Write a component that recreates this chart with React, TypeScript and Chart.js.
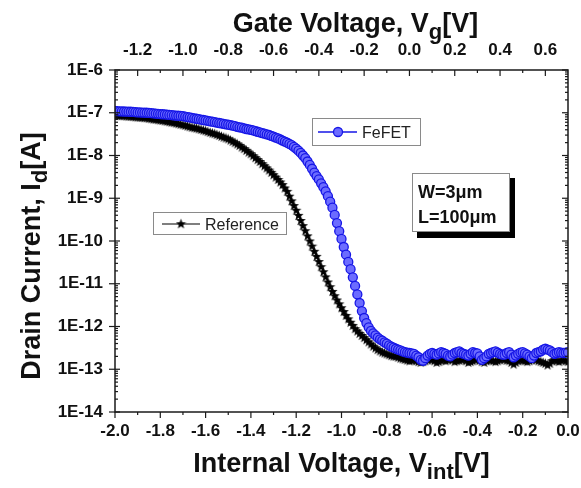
import React, { useEffect, useRef } from "react";
import { Chart, registerables } from "chart.js";

Chart.register(...registerables);

const FONT = '"Liberation Sans", Arial, sans-serif';

// Internal voltage (bottom axis), V
const vint = [
  -2.0, -1.99, -1.98, -1.97, -1.96, -1.95, -1.94, -1.93, -1.92, -1.91,
  -1.9, -1.89, -1.88, -1.87, -1.86, -1.85, -1.84, -1.83, -1.82, -1.81,
  -1.8, -1.79, -1.78, -1.77, -1.76, -1.75, -1.74, -1.73, -1.72, -1.71,
  -1.7, -1.69, -1.68, -1.67, -1.66, -1.65, -1.64, -1.63, -1.62, -1.61,
  -1.6, -1.59, -1.58, -1.57, -1.56, -1.55, -1.54, -1.53, -1.52, -1.51,
  -1.5, -1.49, -1.48, -1.47, -1.46, -1.45, -1.44, -1.43, -1.42, -1.41,
  -1.4, -1.39, -1.38, -1.37, -1.36, -1.35, -1.34, -1.33, -1.32, -1.31,
  -1.3, -1.29, -1.28, -1.27, -1.26, -1.25, -1.24, -1.23, -1.22, -1.21,
  -1.2, -1.19, -1.18, -1.17, -1.16, -1.15, -1.14, -1.13, -1.12, -1.11,
  -1.1, -1.09, -1.08, -1.07, -1.06, -1.05, -1.04, -1.03, -1.02, -1.01,
  -1.0, -0.99, -0.98, -0.97, -0.96, -0.95, -0.94, -0.93, -0.92, -0.91,
  -0.9, -0.89, -0.88, -0.87, -0.86, -0.85, -0.84, -0.83, -0.82, -0.81,
  -0.8, -0.79, -0.78, -0.77, -0.76, -0.75, -0.74, -0.73, -0.72, -0.71,
  -0.7, -0.69, -0.68, -0.67, -0.66, -0.65, -0.64, -0.63, -0.62, -0.61,
  -0.6, -0.59, -0.58, -0.57, -0.56, -0.55, -0.54, -0.53, -0.52, -0.51,
  -0.5, -0.49, -0.48, -0.47, -0.46, -0.45, -0.44, -0.43, -0.42, -0.41,
  -0.4, -0.39, -0.38, -0.37, -0.36, -0.35, -0.34, -0.33, -0.32, -0.31,
  -0.3, -0.29, -0.28, -0.27, -0.26, -0.25, -0.24, -0.23, -0.22, -0.21,
  -0.2, -0.19, -0.18, -0.17, -0.16, -0.15, -0.14, -0.13, -0.12, -0.11,
  -0.1, -0.09, -0.08, -0.07, -0.06, -0.05, -0.04, -0.03, -0.02, -0.01,
  0.0,
];

// FeFET drain current, A
const fefet = [
  1.10e-7, 1.09e-7, 1.08e-7, 1.075e-7, 1.07e-7, 1.065e-7, 1.06e-7, 1.055e-7, 1.05e-7, 1.035e-7,
  1.02e-7, 1.015e-7, 1.01e-7, 1.005e-7, 1.00e-7, 9.88e-8, 9.77e-8, 9.66e-8, 9.55e-8, 9.44e-8,
  9.33e-8, 9.22e-8, 9.12e-8, 9.01e-8, 8.91e-8, 8.81e-8, 8.71e-8, 8.61e-8, 8.51e-8, 8.41e-8,
  8.32e-8, 8.13e-8, 7.94e-8, 7.76e-8, 7.59e-8, 7.41e-8, 7.24e-8, 7.08e-8, 6.92e-8, 6.76e-8,
  6.61e-8, 6.46e-8, 6.31e-8, 6.17e-8, 6.03e-8, 5.89e-8, 5.75e-8, 5.62e-8, 5.50e-8, 5.37e-8,
  5.25e-8, 5.13e-8, 5.01e-8, 4.84e-8, 4.68e-8, 4.57e-8, 4.47e-8, 4.32e-8, 4.17e-8, 4.07e-8,
  3.98e-8, 3.85e-8, 3.72e-8, 3.59e-8, 3.47e-8, 3.35e-8, 3.24e-8, 3.13e-8, 3.02e-8, 2.88e-8,
  2.75e-8, 2.63e-8, 2.51e-8, 2.37e-8, 2.24e-8, 2.12e-8, 2.00e-8, 1.87e-8, 1.74e-8, 1.59e-8,
  1.45e-8, 1.30e-8, 1.15e-8, 1.00e-8, 8.71e-9, 7.24e-9, 6.03e-9, 4.90e-9, 3.98e-9, 3.31e-9,
  2.75e-9, 2.24e-9, 1.82e-9, 1.45e-9, 1.12e-9, 8.32e-10, 6.03e-10, 4.07e-10, 2.63e-10, 1.70e-10,
  1.12e-10, 7.24e-11, 4.79e-11, 3.24e-11, 2.19e-11, 1.41e-11, 8.91e-12, 5.62e-12, 3.55e-12, 2.29e-12,
  1.58e-12, 1.20e-12, 9.55e-13, 7.94e-13, 6.92e-13, 6.17e-13, 5.50e-13, 5.01e-13, 4.68e-13, 4.27e-13,
  3.98e-13, 3.63e-13, 3.39e-13, 3.20e-13, 3.02e-13, 2.88e-13, 2.75e-13, 2.63e-13, 2.51e-13, 2.45e-13,
  2.40e-13, 2.34e-13, 2.29e-13, 2.09e-13, 1.91e-13, 1.66e-13, 1.58e-13, 1.82e-13, 2.09e-13, 2.29e-13,
  2.40e-13, 2.29e-13, 2.19e-13, 2.34e-13, 2.51e-13, 2.40e-13, 2.29e-13, 2.09e-13, 2.00e-13, 2.19e-13,
  2.40e-13, 2.51e-13, 2.63e-13, 2.40e-13, 2.29e-13, 2.19e-13, 2.09e-13, 2.29e-13, 2.51e-13, 2.40e-13,
  2.34e-13, 2.00e-13, 1.66e-13, 1.82e-13, 2.00e-13, 2.29e-13, 2.40e-13, 2.51e-13, 2.63e-13, 2.45e-13,
  2.29e-13, 2.19e-13, 2.19e-13, 2.40e-13, 2.51e-13, 2.19e-13, 1.91e-13, 2.09e-13, 2.29e-13, 2.45e-13,
  2.51e-13, 2.34e-13, 2.19e-13, 2.00e-13, 1.82e-13, 2.09e-13, 2.40e-13, 2.51e-13, 2.63e-13, 2.88e-13,
  3.02e-13, 2.88e-13, 2.75e-13, 2.51e-13, 2.29e-13, 2.40e-13, 2.51e-13, 2.45e-13, 2.40e-13, 2.45e-13,
  2.51e-13,
];

// Reference transistor drain current, A
const reference = [
  8.71e-8, 8.66e-8, 8.61e-8, 8.56e-8, 8.51e-8, 8.41e-8, 8.32e-8, 8.22e-8, 8.13e-8, 8.03e-8,
  7.94e-8, 7.85e-8, 7.76e-8, 7.67e-8, 7.59e-8, 7.41e-8, 7.24e-8, 7.12e-8, 7.00e-8, 6.88e-8,
  6.76e-8, 6.61e-8, 6.46e-8, 6.31e-8, 6.17e-8, 6.03e-8, 5.89e-8, 5.72e-8, 5.56e-8, 5.40e-8,
  5.25e-8, 5.07e-8, 4.90e-8, 4.73e-8, 4.57e-8, 4.47e-8, 4.37e-8, 4.22e-8, 4.07e-8, 3.93e-8,
  3.80e-8, 3.63e-8, 3.47e-8, 3.35e-8, 3.24e-8, 3.09e-8, 2.95e-8, 2.82e-8, 2.69e-8, 2.57e-8,
  2.45e-8, 2.29e-8, 2.14e-8, 2.00e-8, 1.86e-8, 1.72e-8, 1.58e-8, 1.45e-8, 1.32e-8, 1.20e-8,
  1.10e-8, 9.90e-9, 8.91e-9, 8.03e-9, 7.24e-9, 6.45e-9, 5.75e-9, 5.13e-9, 4.57e-9, 4.03e-9,
  3.55e-9, 3.12e-9, 2.75e-9, 2.40e-9, 2.09e-9, 1.74e-9, 1.45e-9, 1.12e-9, 8.71e-10, 6.76e-10,
  5.25e-10, 3.98e-10, 3.02e-10, 2.29e-10, 1.74e-10, 1.32e-10, 1.00e-10, 7.59e-11, 5.75e-11, 4.37e-11,
  3.31e-11, 2.51e-11, 1.91e-11, 1.45e-11, 1.10e-11, 8.51e-12, 6.61e-12, 5.25e-12, 4.17e-12, 3.39e-12,
  2.75e-12, 2.24e-12, 1.82e-12, 1.51e-12, 1.26e-12, 1.06e-12, 8.91e-13, 7.85e-13, 6.92e-13, 6.17e-13,
  5.50e-13, 4.90e-13, 4.37e-13, 3.89e-13, 3.47e-13, 3.16e-13, 2.88e-13, 2.69e-13, 2.51e-13, 2.40e-13,
  2.29e-13, 2.19e-13, 2.09e-13, 2.04e-13, 2.00e-13, 1.91e-13, 1.82e-13, 1.76e-13, 1.70e-13, 1.64e-13,
  1.58e-13, 1.62e-13, 1.66e-13, 1.58e-13, 1.51e-13, 1.45e-13, 1.51e-13, 1.58e-13, 1.66e-13, 1.74e-13,
  1.66e-13, 1.58e-13, 1.45e-13, 1.51e-13, 1.62e-13, 1.66e-13, 1.58e-13, 1.66e-13, 1.74e-13, 1.66e-13,
  1.51e-13, 1.58e-13, 1.62e-13, 1.66e-13, 1.74e-13, 1.58e-13, 1.45e-13, 1.51e-13, 1.58e-13, 1.66e-13,
  1.74e-13, 1.62e-13, 1.51e-13, 1.45e-13, 1.58e-13, 1.66e-13, 1.62e-13, 1.58e-13, 1.51e-13, 1.58e-13,
  1.66e-13, 1.74e-13, 1.70e-13, 1.62e-13, 1.58e-13, 1.45e-13, 1.32e-13, 1.45e-13, 1.58e-13, 1.66e-13,
  1.62e-13, 1.58e-13, 1.51e-13, 1.58e-13, 1.66e-13, 1.74e-13, 1.66e-13, 1.58e-13, 1.51e-13, 1.45e-13,
  1.38e-13, 1.26e-13, 1.38e-13, 1.58e-13, 1.66e-13, 1.58e-13, 1.51e-13, 1.62e-13, 1.66e-13, 1.58e-13,
  1.51e-13,
];

// Axis ticks
const xTicks = [-2.0, -1.8, -1.6, -1.4, -1.2, -1.0, -0.8, -0.6, -0.4, -0.2, 0.0];
const xMinor = [-1.9, -1.7, -1.5, -1.3, -1.1, -0.9, -0.7, -0.5, -0.3, -0.1];
const gateTicks = [-1.2, -1.0, -0.8, -0.6, -0.4, -0.2, 0.0, 0.2, 0.4, 0.6];
const gateMinor = [-1.1, -0.9, -0.7, -0.5, -0.3, -0.1, 0.1, 0.3, 0.5];
const yExponents = [-14, -13, -12, -11, -10, -9, -8, -7, -6];
const yMinorMantissas = [2, 3, 4, 5, 6, 7, 8, 9];

const seriesNames = ["FeFET", "Reference"];
const noteLines = ["W=3\u03bcm", "L=100\u03bcm"];

const BLUE = "#1616e6";
const BLUE_FILL = "#6c6cff";

function makeStar(): HTMLCanvasElement {
  const c = document.createElement("canvas");
  c.width = 11;
  c.height = 11;
  const g = c.getContext("2d")!;
  g.fillStyle = "#000";
  g.beginPath();
  for (let i = 0; i < 10; i++) {
    const r = i % 2 ? 2.2 : 5.4;
    const a = -Math.PI / 2 + (i * Math.PI) / 5;
    const px = 5.5 + r * Math.cos(a);
    const py = 5.8 + r * Math.sin(a);
    if (i === 0) g.moveTo(px, py);
    else g.lineTo(px, py);
  }
  g.closePath();
  g.fill();
  return c;
}

type Part = [string, boolean];

function drawRich(ctx: CanvasRenderingContext2D, parts: Part[], x: number, y: number, size: number) {
  const main = `bold ${size}px ${FONT}`;
  const sub = `bold ${Math.round(size * 0.8)}px ${FONT}`;
  let total = 0;
  const widths = parts.map(([t, s]) => {
    ctx.font = s ? sub : main;
    const w = ctx.measureText(t).width;
    total += w;
    return w;
  });
  let cx = x - total / 2;
  ctx.textAlign = "left";
  ctx.textBaseline = "alphabetic";
  parts.forEach(([t, s], i) => {
    ctx.font = s ? sub : main;
    ctx.fillText(t, cx, s ? y + size * 0.26 : y);
    cx += widths[i];
  });
}

export default function App() {
  const ref = useRef<HTMLCanvasElement>(null);

  useEffect(() => {
    const canvas = ref.current!;
    const star = makeStar();

    const overlay = {
      id: "overlay",
      afterDraw(chart: any) {
        const ctx: CanvasRenderingContext2D = chart.ctx;
        const { left, right, top, bottom } = chart.chartArea;
        const sx = chart.scales.x;
        const sg = chart.scales.x2;
        const sy = chart.scales.y;
        ctx.save();
        ctx.strokeStyle = "#1a1a1a";
        ctx.lineWidth = 1.5;
        ctx.strokeRect(left, top, right - left, bottom - top);

        const line = (x1: number, y1: number, x2: number, y2: number) => {
          ctx.beginPath();
          ctx.moveTo(x1, y1);
          ctx.lineTo(x2, y2);
          ctx.stroke();
        };
        ctx.lineWidth = 1.2;
        xTicks.forEach((v) => {
          const p = sx.getPixelForValue(v);
          line(p, bottom, p, bottom + 6);
        });
        xMinor.forEach((v) => {
          const p = sx.getPixelForValue(v);
          line(p, bottom, p, bottom + 3);
        });
        gateTicks.forEach((v) => {
          const p = sg.getPixelForValue(v);
          line(p, top, p, top + 6);
        });
        gateMinor.forEach((v) => {
          const p = sg.getPixelForValue(v);
          line(p, top, p, top + 3);
        });
        yExponents.forEach((e) => {
          const p = sy.getPixelForValue(Math.pow(10, e));
          line(left - 6, p, left + 5, p);
          line(right - 6, p, right, p);
          if (e < -6) {
            yMinorMantissas.forEach((m) => {
              const q = sy.getPixelForValue(m * Math.pow(10, e));
              line(left, q, left + 3, q);
              line(right - 3, q, right, q);
            });
          }
        });

        // axis titles
        ctx.fillStyle = "#111";
        drawRich(ctx, [["Gate Voltage, V", false], ["g", true], ["[V]", false]], (left + right) / 2 + 14, 32, 27);
        drawRich(ctx, [["Internal Voltage, V", false], ["int", true], ["[V]", false]], (left + right) / 2, 472, 27);
        ctx.save();
        ctx.translate(40, (top + bottom) / 2 + 15);
        ctx.rotate(-Math.PI / 2);
        drawRich(ctx, [["Drain Current, I", false], ["d", true], ["[A]", false]], 0, 0, 27);
        ctx.restore();

        // legend boxes
        ctx.lineWidth = 1;
        ctx.strokeStyle = "#8a8a8a";
        ctx.fillStyle = "#fff";
        ctx.fillRect(312.5, 118.5, 108, 27);
        ctx.strokeRect(312.5, 118.5, 108, 27);
        ctx.fillRect(153.5, 212.5, 133, 22);
        ctx.strokeRect(153.5, 212.5, 133, 22);

        ctx.strokeStyle = BLUE;
        ctx.lineWidth = 1.5;
        line(318, 132, 357, 132);
        ctx.beginPath();
        ctx.arc(338, 132, 4.5, 0, Math.PI * 2);
        ctx.fillStyle = BLUE_FILL;
        ctx.fill();
        ctx.lineWidth = 1.3;
        ctx.stroke();

        ctx.strokeStyle = "#000";
        ctx.lineWidth = 1.2;
        line(162, 224, 200, 224);
        ctx.drawImage(star, 181 - 5.5, 224 - 5.8);

        ctx.fillStyle = "#222";
        ctx.font = `16px ${FONT}`;
        ctx.textAlign = "left";
        ctx.textBaseline = "alphabetic";
        ctx.fillText(seriesNames[0], 362, 138);
        ctx.fillText(seriesNames[1], 205, 230);

        // W/L note box with shadow
        ctx.fillStyle = "#000";
        ctx.fillRect(417, 178, 98, 60);
        ctx.fillStyle = "#fff";
        ctx.fillRect(412, 173, 98, 59);
        ctx.strokeStyle = "#8a8a8a";
        ctx.lineWidth = 1;
        ctx.strokeRect(412.5, 173.5, 97, 58);
        ctx.fillStyle = "#111";
        ctx.font = `bold 18px ${FONT}`;
        ctx.fillText(noteLines[0], 418, 198);
        ctx.fillText(noteLines[1], 418, 223);
        ctx.restore();
      },
    };

    const tickFont = { family: FONT, size: 17, weight: "bold" as const };

    const chart = new Chart(canvas, {
      type: "line",
      data: {
        datasets: [
          {
            label: seriesNames[0],
            data: vint.map((v, i) => ({ x: v, y: fefet[i] })),
            borderColor: BLUE,
            borderWidth: 1,
            pointRadius: 4.5,
            pointBackgroundColor: BLUE_FILL,
            pointBorderColor: BLUE,
            pointBorderWidth: 1.3,
            xAxisID: "x",
            yAxisID: "y",
          },
          {
            label: seriesNames[1],
            data: vint.map((v, i) => ({ x: v, y: reference[i] })),
            borderColor: "#000",
            borderWidth: 1,
            pointStyle: star,
            pointRadius: 5,
            xAxisID: "x",
            yAxisID: "y",
          },
        ],
      },
      options: {
        responsive: false,
        animation: false,
        events: [],
        layout: { padding: { left: 0, right: 13, top: 0, bottom: 0 } },
        plugins: { legend: { display: false }, tooltip: { enabled: false }, title: { display: false } },
        scales: {
          x: {
            type: "linear",
            position: "bottom",
            min: -2,
            max: 0,
            afterBuildTicks: (s: any) => {
              s.ticks = xTicks.map((v) => ({ value: v }));
            },
            afterFit: (s: any) => {
              s.height = 76;
              s.paddingLeft = 0;
              s.paddingRight = 0;
            },
            ticks: {
              callback: (v: any) => Number(v).toFixed(1),
              font: tickFont,
              color: "#111",
              padding: 9,
              maxRotation: 0,
              autoSkip: false,
            },
            grid: { display: false, drawTicks: false },
            border: { display: false },
          },
          x2: {
            type: "linear",
            position: "top",
            min: -1.3,
            max: 0.7,
            afterBuildTicks: (s: any) => {
              s.ticks = gateTicks.map((v) => ({ value: v }));
            },
            afterFit: (s: any) => {
              s.height = 70;
              s.paddingLeft = 0;
              s.paddingRight = 0;
            },
            ticks: {
              callback: (v: any) => Number(v).toFixed(1),
              font: tickFont,
              color: "#111",
              padding: 9,
              maxRotation: 0,
              autoSkip: false,
            },
            grid: { display: false, drawTicks: false },
            border: { display: false },
          },
          y: {
            type: "logarithmic",
            position: "left",
            min: 1e-14,
            max: 1e-6,
            afterBuildTicks: (s: any) => {
              s.ticks = yExponents.map((e) => ({ value: Math.pow(10, e) }));
            },
            afterFit: (s: any) => {
              s.width = 115;
              s.paddingTop = 0;
              s.paddingBottom = 0;
            },
            ticks: {
              callback: (v: any) => "1E" + Math.round(Math.log10(Number(v))),
              font: tickFont,
              color: "#111",
              padding: 12,
              autoSkip: false,
            },
            grid: { display: false, drawTicks: false },
            border: { display: false },
          },
        },
      },
      plugins: [overlay],
    });

    return () => chart.destroy();
  }, []);

  return (
    <div style={{ position: "fixed", left: 0, top: 0, width: 581, height: 488, background: "#fff" }}>
      <canvas ref={ref} width={581} height={488} style={{ display: "block" }} />
    </div>
  );
}
